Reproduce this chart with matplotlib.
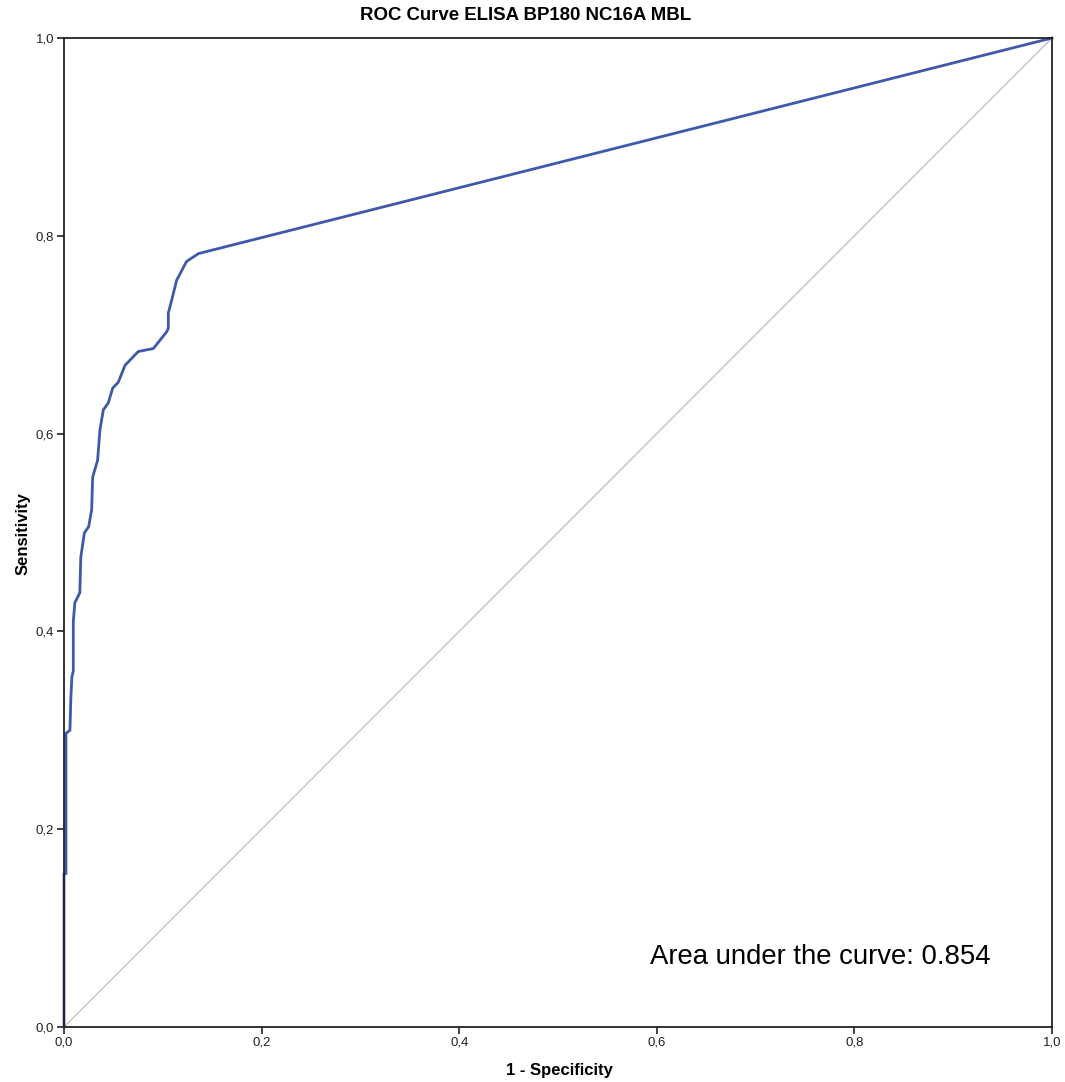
import matplotlib.pyplot as plt
from matplotlib.ticker import FuncFormatter

plt.rcParams['font.family'] = ['Liberation Sans', 'DejaVu Sans']

# ROC curve points
fpr = [0.0, 0.0, 0.002, 0.002, 0.006, 0.007, 0.008, 0.0094, 0.0094, 0.011, 0.016,
       0.017, 0.0206, 0.025, 0.028, 0.029, 0.034, 0.0364, 0.0398, 0.0448, 0.0493,
       0.055, 0.0617, 0.0752, 0.0904, 0.104, 0.1056, 0.1056, 0.109, 0.114, 0.124,
       0.136, 1.0]
tpr = [0.0, 0.155, 0.155, 0.297, 0.300, 0.334, 0.354, 0.36, 0.410, 0.429, 0.439,
       0.475, 0.4995, 0.506, 0.523, 0.556, 0.573, 0.604, 0.624, 0.631, 0.646,
       0.652, 0.669, 0.683, 0.686, 0.703, 0.7067, 0.722, 0.735, 0.755, 0.774,
       0.782, 1.0]
ref_line = [0.0, 1.0]
ticks = [0.0, 0.2, 0.4, 0.6, 0.8, 1.0]
auc = 0.854

W, H = 1065, 1082
fig = plt.figure(figsize=(W / 100, H / 100), dpi=100)
ax = fig.add_axes([64 / W, 1 - 1027 / H, 988 / W, 989 / H])

ax.plot(ref_line, ref_line, color='#c4c4c4', lw=1.0, zorder=1)
ax.plot(fpr, tpr, color='#3f59aa', lw=2.0, zorder=2, clip_on=False)

ax.set_xlim(0, 1)
ax.set_ylim(0, 1)
ax.set_xticks(ticks)
ax.set_yticks(ticks)
fmt = FuncFormatter(lambda v, p: f'{v:.1f}'.replace('.', ','))
ax.xaxis.set_major_formatter(fmt)
ax.yaxis.set_major_formatter(fmt)
ax.tick_params(direction='out', length=5, width=1.2, labelsize=9.5, colors='#222222', pad=2)

for s in ax.spines.values():
    s.set_color('#222222')
    s.set_linewidth(1.3)

fig.text(526 / W, 1 - 16 / H, 'ROC Curve ELISA BP180 NC16A MBL', fontsize=13.4,
         fontweight='bold', ha='center', va='center')
fig.text(559 / W, 1 - 1071 / H, '1 - Specificity', fontsize=12, fontweight='bold',
         ha='center', va='center')
fig.text(23 / W, 1 - 534 / H, 'Sensitivity', fontsize=12, fontweight='bold',
         ha='center', va='center', rotation=90)

ax.text(0.593, 0.071, f'Area under the curve: {auc}', fontsize=19.8,
        transform=ax.transData, va='center', ha='left')

fig.savefig('out.png', dpi=100)
